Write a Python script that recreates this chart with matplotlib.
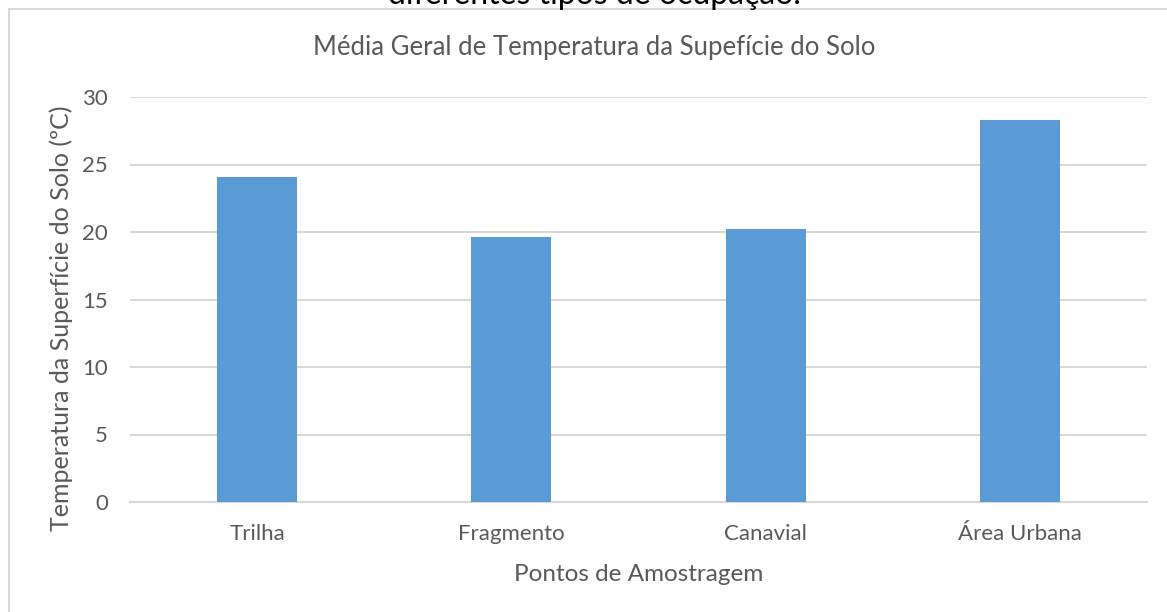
import matplotlib.pyplot as plt
from matplotlib.patches import Rectangle

# ----- dados -----
pontos = ["Trilha", "Fragmento", "Canavial", "Área Urbana"]
temperatura = [24.1, 19.6, 20.2, 28.3]
y_ticks = [0, 5, 10, 15, 20, 25, 30]

plt.rcParams['font.family'] = ['Lato', 'DejaVu Sans']
cinza = "#595959"
linha = "#d9d9d9"

fig = plt.figure(figsize=(11.67, 6.12), dpi=100)

# borda do gráfico (cortada à direita e embaixo)
fig.patches.append(Rectangle((9 / 1167, -0.05), 1.2, (612 - 9) / 612 + 0.05,
                             transform=fig.transFigure, fill=False,
                             edgecolor=linha, linewidth=1.5))

# texto cortado no topo
fig.text(594 / 1167, 1 - 4 / 612, "diferentes tipos de ocupação.",
         ha="center", va="baseline", fontsize=23, color="black")

ax = fig.add_axes([130 / 1167, 110 / 612, 1017 / 1167, 405 / 612])
ax.bar(range(len(pontos)), temperatura, width=0.315, color="#5B9BD5", zorder=3)

ax.set_xlim(-0.5, len(pontos) - 0.5)
ax.set_ylim(0, 30)
ax.set_yticks(y_ticks)
ax.set_xticks(range(len(pontos)))
ax.set_xticklabels(pontos)
ax.grid(axis="y", color=linha, linewidth=1.5, zorder=0)
ax.tick_params(length=0, labelsize=16, labelcolor=cinza)
ax.tick_params(axis="y", pad=16)
ax.tick_params(axis="x", pad=16)
for s in ["left", "right", "top"]:
    ax.spines[s].set_visible(False)
ax.spines["bottom"].set_color(linha)
ax.spines["bottom"].set_linewidth(1.5)

ax.set_xlabel("Pontos de Amostragem", fontsize=17.5, color=cinza, labelpad=14)
ax.set_ylabel("Temperatura da Superfície do Solo (ºC)", fontsize=18, color=cinza)
ax.yaxis.set_label_coords(-0.056, 0.454)
fig.text(594 / 1167, 1 - 55 / 612, "Média Geral de Temperatura da Supefície do Solo",
         ha="center", va="baseline", fontsize=18.5, color=cinza)

fig.savefig("out.png", dpi=100)
